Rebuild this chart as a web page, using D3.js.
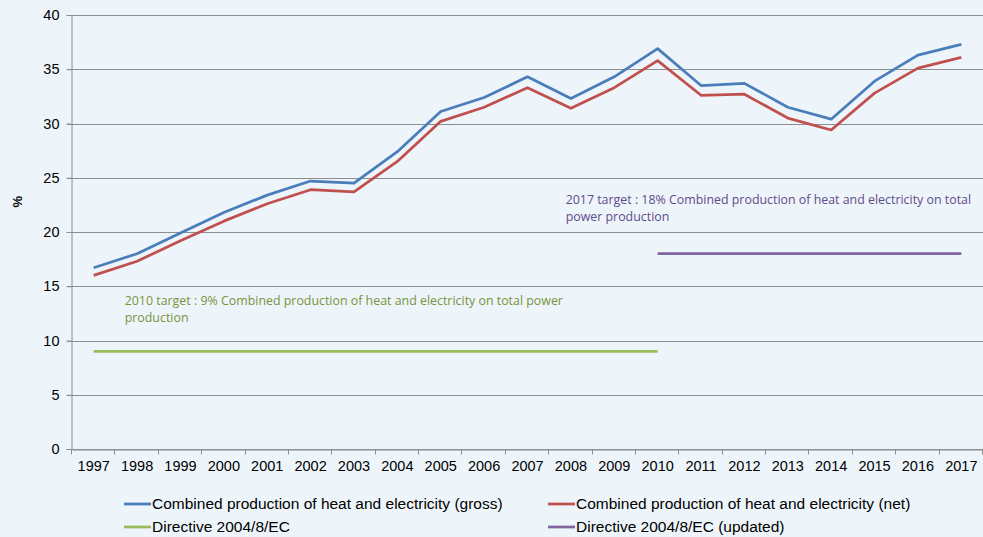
<!DOCTYPE html>
<html>
<head>
<meta charset="utf-8">
<script src="https://cdn.jsdelivr.net/npm/d3@7"></script>
<style>
body { margin: 0; background: #eef5fa; }
svg { display: block; }
</style>
</head>
<body>
<div id="chart"></div>
<script>
var width = 983;
var height = 537;

var years = ["1997", "1998", "1999", "2000", "2001", "2002", "2003", "2004", "2005", "2006", "2007",
             "2008", "2009", "2010", "2011", "2012", "2013", "2014", "2015", "2016", "2017"];
var gross = [16.7, 18.0, 19.9, 21.8, 23.4, 24.7, 24.5, 27.4, 31.1, 32.4, 34.3,
             32.3, 34.3, 36.9, 33.5, 33.7, 31.5, 30.4, 33.9, 36.3, 37.3];
var net = [16.0, 17.3, 19.2, 21.0, 22.6, 23.9, 23.7, 26.5, 30.2, 31.5, 33.3,
           31.4, 33.3, 35.8, 32.6, 32.7, 30.5, 29.4, 32.8, 35.1, 36.1];
var directiveYears = ["1997", "2010"];
var directive = [9, 9];
var updatedYears = ["2010", "2017"];
var updated = [18, 18];
var yTicks = [0, 5, 10, 15, 20, 25, 30, 35, 40];

var margin = {left: 72, right: 0, top: 15, bottom: 88};

var svg = d3.select("#chart")
    .append("svg")
    .attr("width", width)
    .attr("height", height);

var x = d3.scaleBand()
    .domain(years)
    .range([margin.left, width - margin.right]);

var y = d3.scaleLinear()
    .domain([0, 40])
    .range([height - margin.bottom, margin.top]);

var cx = function(d) { return x(d) + x.bandwidth() / 2; };

// gridlines
svg.append("g")
    .selectAll("line")
    .data(yTicks)
    .enter()
    .append("line")
    .attr("x1", margin.left - 5)
    .attr("x2", width)
    .attr("y1", function(d) { return Math.round(y(d)) + 0.5; })
    .attr("y2", function(d) { return Math.round(y(d)) + 0.5; })
    .attr("stroke", "#8e8e8e")
    .attr("stroke-width", 1);

// y axis
var yAxis = svg.append("g")
    .attr("transform", "translate(" + (margin.left - 0.5) + ",0)")
    .call(d3.axisLeft(y).tickValues(yTicks).tickSize(5).tickPadding(7));
yAxis.select(".domain").attr("stroke", "#8e8e8e");
yAxis.selectAll(".tick line").attr("stroke", "#8e8e8e");
yAxis.selectAll("text")
    .attr("font-family", "Liberation Sans, Arial, sans-serif")
    .attr("font-size", 14.5)
    .attr("fill", "#000");

// x axis
var xAxis = svg.append("g")
    .attr("transform", "translate(0," + (Math.round(y(0)) + 0.5) + ")")
    .call(d3.axisBottom(x).tickSize(0).tickPadding(11));
xAxis.select(".domain").attr("stroke", "#8e8e8e");
xAxis.selectAll("text")
    .attr("font-family", "Liberation Sans, Arial, sans-serif")
    .attr("font-size", 14.5)
    .attr("fill", "#000");
xAxis.selectAll("line.bound")
    .data(years.concat(["end"]))
    .enter()
    .append("line")
    .attr("class", "bound")
    .attr("x1", function(d, i) { return Math.round(i < years.length ? x(d) : x(years[years.length - 1]) + x.bandwidth()) - 0.5; })
    .attr("x2", function(d, i) { return Math.round(i < years.length ? x(d) : x(years[years.length - 1]) + x.bandwidth()) - 0.5; })
    .attr("y1", 0)
    .attr("y2", 5)
    .attr("stroke", "#8e8e8e");

// y label
svg.append("text")
    .attr("transform", "translate(22," + y(22.8) + ") rotate(-90)")
    .attr("text-anchor", "middle")
    .attr("font-family", "Liberation Sans, Arial, sans-serif")
    .attr("font-size", 13)
    .attr("font-weight", "bold")
    .text("%");

var line = d3.line()
    .x(function(d) { return cx(d[0]); })
    .y(function(d) { return y(d[1]); });

var series = [
    {keys: directiveYears, values: directive, color: "#9bbb59"},
    {keys: updatedYears, values: updated, color: "#8064a2"},
    {keys: years, values: net, color: "#c0504d"},
    {keys: years, values: gross, color: "#4a7ebb"}
];

series.forEach(function(s) {
    svg.append("path")
        .datum(d3.zip(s.keys, s.values))
        .attr("fill", "none")
        .attr("stroke", s.color)
        .attr("stroke-width", 2.75)
        .attr("stroke-linejoin", "round")
        .attr("d", line);
});

// annotations
function note(lines, xPos, yPos, color) {
    var t = svg.append("text")
        .attr("font-family", "Open Sans, sans-serif")
        .attr("font-size", 12.4)
        .attr("fill", color);
    lines.forEach(function(l, i) {
        t.append("tspan")
            .attr("x", xPos)
            .attr("y", yPos + i * 17)
            .text(l);
    });
}
note(["2010 target : 9% Combined production of heat and electricity on total power", "production"],
     cx("1997") + 31, y(13.25), "#77933c");
note(["2017 target : 18% Combined production of heat and electricity on total", "power production"],
     cx("2010") - 92, y(22.55), "#5f4b8b");

// legend
var legend = [
    {name: "Combined production of heat and electricity (gross)", color: "#4a7ebb", lx: 124, ly: 504},
    {name: "Combined production of heat and electricity (net)", color: "#c0504d", lx: 548, ly: 504},
    {name: "Directive 2004/8/EC", color: "#9bbb59", lx: 124, ly: 527},
    {name: "Directive 2004/8/EC (updated)", color: "#8064a2", lx: 548, ly: 527}
];
var lg = svg.append("g")
    .selectAll("g")
    .data(legend)
    .enter()
    .append("g")
    .attr("transform", function(d) { return "translate(" + d.lx + "," + d.ly + ")"; });
lg.append("line")
    .attr("x1", 0)
    .attr("x2", 27)
    .attr("stroke", function(d) { return d.color; })
    .attr("stroke-width", 2.75);
lg.append("text")
    .attr("x", 28)
    .attr("dy", "0.35em")
    .attr("font-family", "Liberation Sans, Arial, sans-serif")
    .attr("font-size", 15.5)
    .text(function(d) { return d.name; });
</script>
</body>
</html>
